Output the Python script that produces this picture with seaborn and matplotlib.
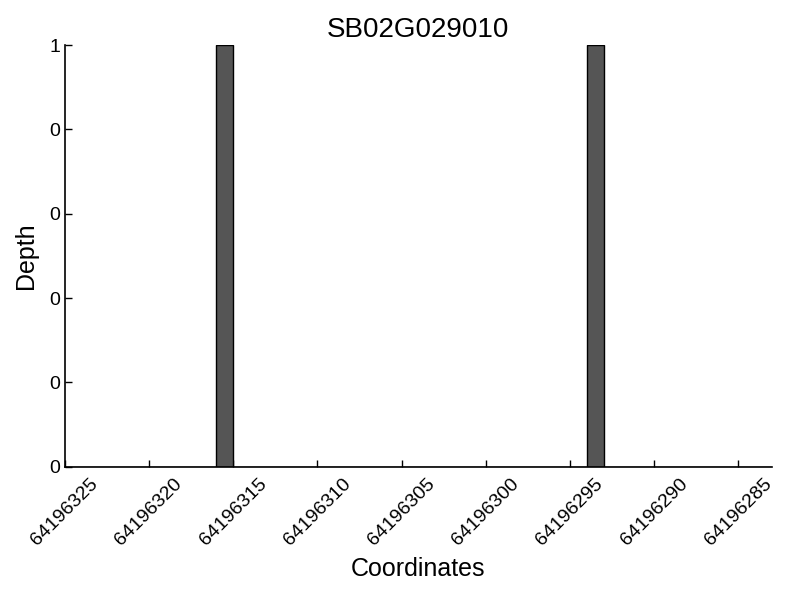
import numpy as np
import matplotlib
matplotlib.use("Agg")
import matplotlib.pyplot as plt
import seaborn as sns

# Data: read depth per coordinate
coords = [64196315, 64196293]
depth = [1, 1]
xticks = [64196325, 64196320, 64196315, 64196310, 64196305,
          64196300, 64196295, 64196290, 64196285]
yticks = [0, 0.2, 0.4, 0.6, 0.8, 1.0]

sns.set_style("ticks")
plt.rcParams['font.family'] = ['Liberation Sans', 'DejaVu Sans']
plt.rcParams['xtick.direction'] = 'in'
plt.rcParams['ytick.direction'] = 'in'
plt.rcParams['text.color'] = 'black'
plt.rcParams['axes.labelcolor'] = 'black'

fig = plt.figure(figsize=(8, 6), dpi=100)
ax = fig.add_axes([0.081, 0.222, 0.884, 0.703])

sns.histplot(x=coords, weights=depth, binwidth=1,
             binrange=(64196283, 64196325), color="#555555",
             edgecolor="black", linewidth=1, alpha=1, ax=ax)

ax.set_xlim(64196325, 64196283)
ax.set_ylim(0, 1)
ax.set_xticks(xticks)
ax.set_xticklabels([str(t) for t in xticks], rotation=45, fontsize=14)
ax.set_yticks(yticks)
ax.set_yticklabels(["%d" % t for t in yticks], fontsize=14)
ax.tick_params(length=5, width=1, colors='black')
ax.tick_params(axis='x', pad=6)
sns.despine(ax=ax)
for s in ['left', 'bottom']:
    ax.spines[s].set_color('black')
    ax.spines[s].set_linewidth(1.2)

ax.set_xlabel("Coordinates", fontsize=18, labelpad=6, color='black')
ax.set_ylabel("Depth", fontsize=18, labelpad=8, color='black')
ax.set_title("SB02G029010", fontsize=20, color='black')

fig.savefig("out.png", dpi=100)
